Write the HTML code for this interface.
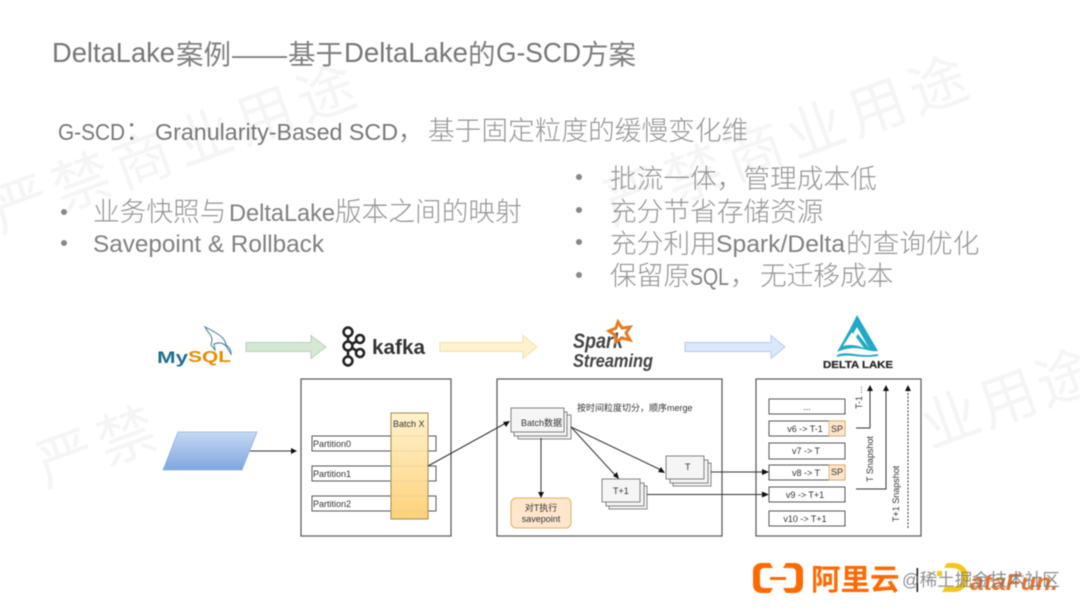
<!DOCTYPE html>
<html lang="zh"><head><meta charset="utf-8"><title>DeltaLake G-SCD</title>
<style>
html,body{margin:0;padding:0;background:#fff;width:1080px;height:608px;overflow:hidden}
svg{display:block;font-family:"Liberation Sans","Noto Sans CJK SC",sans-serif;filter:blur(.45px)}
.wm{font-size:58px;fill:#f5f5f5;letter-spacing:7px}
.hl{fill:#777;font-size:27.5px}
.hc{fill:#808080;font-size:27.5px}
.sl{fill:#777;font-size:23px}
.c{fill:#959595;font-size:26.7px;font-weight:300}
.bl{fill:#808080;font-size:24px}
.s{font-size:9px;fill:#333}
.box{fill:#fff;stroke:#555;stroke-width:1.2}
.r{fill:#fff;stroke:#444;stroke-width:.9}
.st{fill:#f5f5f5;stroke:#777;stroke-width:.9}
.l{stroke:#333;stroke-width:1;fill:none}
.ah{fill:#111}
</style></head><body>
<svg width="1080" height="608" viewBox="0 0 1080 608" xmlns="http://www.w3.org/2000/svg">
<defs>
<linearGradient id="g1" x1="0" y1="0" x2="0" y2="1"><stop offset="0" stop-color="#c5d9f5"/><stop offset="1" stop-color="#7ea6e0"/></linearGradient>
<linearGradient id="g2" x1="0" y1="0" x2="0" y2="1"><stop offset="0" stop-color="#fff2cc"/><stop offset="1" stop-color="#ffd27a"/></linearGradient>
</defs>
<!-- watermark -->
<text class="wm" transform="translate(20,203) rotate(-20)" x="-29" y="22">严禁商业用途</text>
<text class="wm" transform="translate(632,195) rotate(-20)" x="-29" y="22">严禁商业用途</text>
<text class="wm" transform="translate(65,457) rotate(-20)" x="-29" y="22">严禁</text>
<text class="wm" transform="translate(950,418) rotate(-20)" x="-29" y="22" style="letter-spacing:3px">业用途</text>

<!-- heading -->
<text class="hl" x="52" y="62" textLength="123" lengthAdjust="spacingAndGlyphs">DeltaLake</text>
<text class="hc" x="176" y="64">案例</text>
<text class="hc" x="232" y="64">——</text>
<text class="hc" x="288" y="64">基于</text>
<text class="hl" x="344" y="62" textLength="124" lengthAdjust="spacingAndGlyphs">DeltaLake</text>
<text class="hc" x="468" y="64">的</text>
<text class="hl" x="496" y="62" textLength="85" lengthAdjust="spacingAndGlyphs">G-SCD</text>
<text class="hc" x="581" y="64">方案</text>

<!-- subtitle -->
<text class="sl" x="58" y="140" textLength="67" lengthAdjust="spacingAndGlyphs">G-SCD</text>
<text class="c" x="125" y="140" style="fill:#777">：</text>
<text class="sl" x="155" y="140" textLength="243" lengthAdjust="spacingAndGlyphs">Granularity-Based SCD</text>
<text class="c" x="398" y="140" style="fill:#777">，</text>
<text class="c" x="428" y="140">基于固定粒度的缓慢变化维</text>

<!-- left bullets -->
<circle cx="64" cy="212" r="3" fill="#888"/>
<circle cx="64" cy="243" r="3" fill="#888"/>
<text class="c" x="93" y="221">业务快照与</text>
<text class="bl" x="229" y="221" textLength="106" lengthAdjust="spacingAndGlyphs">DeltaLake</text>
<text class="c" x="335" y="221">版本之间的映射</text>
<text class="bl" x="93" y="252" textLength="231" lengthAdjust="spacingAndGlyphs">Savepoint &amp; Rollback</text>

<!-- right bullets -->
<circle cx="579" cy="177" r="3" fill="#888"/>
<circle cx="579" cy="210" r="3" fill="#888"/>
<circle cx="579" cy="242" r="3" fill="#888"/>
<circle cx="579" cy="275" r="3" fill="#888"/>
<text class="c" x="610" y="188">批流一体，管理成本低</text>
<text class="c" x="610" y="221">充分节省存储资源</text>
<text class="c" x="610" y="253">充分利用</text>
<text class="bl" x="716" y="252" textLength="129" lengthAdjust="spacingAndGlyphs">Spark/Delta</text>
<text class="c" x="846" y="253">的查询优化</text>
<text class="c" x="610" y="285">保留原</text>
<text class="bl" x="690" y="285" textLength="39" lengthAdjust="spacingAndGlyphs">SQL</text>
<text class="c" x="730" y="285">，</text>
<text class="c" x="760" y="285">无迁移成本</text>

<!-- MySQL logo -->
<text x="157" y="363" font-size="17" font-weight="700" fill="#1f6f92" textLength="31" lengthAdjust="spacingAndGlyphs">My</text>
<text x="188" y="362" font-size="16" font-weight="700" fill="#e48e00" textLength="43" lengthAdjust="spacingAndGlyphs">SQL</text>
<path d="M205 327c3 6 7 8 7 13l-1 5 4 5-1-6c5-2 9-1 12 2l5 8c0-5-2-7-5-9-1-6-5-9-10-12-4-3-7-4-11-6z" fill="none" stroke="#3d7f9c" stroke-width="1"/>

<!-- arrows top -->
<path d="M246 342.500h65v-7l15 11.500-15 11.500v-7h-65z" fill="#d5e8d4" stroke="#b7d3b5"/>
<path d="M440 342.500h83v-7l14 11.500-14 11.500v-7h-83z" fill="#fff2cc" stroke="#efe0a8"/>
<path d="M685 342.500h86v-7l14 11.500-14 11.500v-7h-86z" fill="#dae8fc" stroke="#b5cbe6"/>

<!-- kafka logo -->
<g fill="none" stroke="#222" stroke-width="2.6">
<circle cx="348" cy="332" r="4.4"/><circle cx="348" cy="346" r="4.4"/><circle cx="348" cy="361" r="4.4"/>
<circle cx="360" cy="339" r="4"/><circle cx="360" cy="353" r="4"/>
<path d="M348 337v4M348 351v5M352 344l5-3M352 348l5 3"/>
</g>
<text x="372" y="354" font-size="20" font-weight="700" fill="#333" textLength="53" lengthAdjust="spacingAndGlyphs">kafka</text>

<!-- Spark Streaming -->
<text x="573" y="348" font-size="21" font-weight="700" font-style="italic" fill="#444" textLength="50" lengthAdjust="spacingAndGlyphs">Spark</text>
<text x="573" y="367" font-size="18" font-style="italic" font-weight="700" fill="#444" textLength="80" lengthAdjust="spacingAndGlyphs">Streaming</text>
<path d="M618 322l4 6 8-1-4 6 4 7-8-2-6 4-1-7-6-4 7-3z" fill="none" stroke="#e67a22" stroke-width="3"/>

<!-- Delta Lake logo -->
<path d="M857 315L878 351C868 353 858 343 837 352L850 329L852 332L843 346C850 344 857 345 864 348L856 337L858 334L869 348L857 327L853 334L850 329z" fill="#21a9c7"/>
<path d="M837 355c12-5 22 3 41-1v2c-18 3-28-3-41 1z" fill="#21a9c7"/>
<text x="823" y="368" font-size="10.500" font-weight="700" fill="#2a2a2a" stroke="#2a2a2a" stroke-width=".3" textLength="70" lengthAdjust="spacingAndGlyphs">DELTA LAKE</text>

<!-- source -->
<polygon points="178,432 257,432 242,470 163,470" fill="url(#g1)" stroke="#8fb0dd" stroke-width=".8"/>
<path class="l" d="M250 451H294"/><path class="ah" d="M297 451l-6-3v6z"/>

<!-- Kafka box -->
<rect class="box" x="301" y="379" width="150" height="157"/>
<rect class="r" x="312" y="436" width="124" height="15"/>
<rect class="r" x="312" y="466" width="124" height="15"/>
<rect class="r" x="312" y="496" width="124" height="15"/>
<rect x="391" y="413" width="37" height="106" fill="url(#g2)" stroke="#a08a50"/>
<path d="M391 451h37M391 466h37M391 481h37M391 496h37M391 511h37M391 436h37" stroke="#d8c99a" stroke-width=".6" fill="none"/>
<text class="s" x="313" y="447">Partition0</text>
<text class="s" x="313" y="477">Partition1</text>
<text class="s" x="313" y="507">Partition2</text>
<text class="s" x="393" y="427">Batch X</text>

<!-- Streaming box -->
<rect class="box" x="497" y="379" width="225" height="157"/>
<path class="l" d="M428 466L506 423"/><path class="ah" d="M510 421l-7 1 3 5z"/>
<text x="577" y="411" font-size="9" fill="#333">按时间粒度切分，顺序merge</text>

<g><rect class="st" x="518" y="415" width="53" height="24"/><rect class="st" x="514" y="412" width="53" height="24"/><rect class="st" x="511" y="408" width="53" height="24"/></g>
<text class="s" x="521" y="426">Batch数据</text>

<g><rect class="st" x="673" y="463" width="38" height="23"/><rect class="st" x="670" y="460" width="38" height="23"/><rect class="st" x="666" y="456" width="38" height="23"/></g>
<text class="s" x="685" y="470">T</text>

<g><rect class="st" x="609" y="486" width="38" height="23"/><rect class="st" x="606" y="483" width="38" height="23"/><rect class="st" x="602" y="479" width="38" height="23"/></g>
<text class="s" x="613" y="494">T+1</text>

<rect x="511" y="498" width="60" height="30" rx="5" fill="#ffe6cc" stroke="#e0b060"/>
<text class="s" x="541" y="511" text-anchor="middle">对T执行</text>
<text class="s" x="541" y="522" text-anchor="middle">savepoint</text>

<path class="l" d="M541 438V494"/><path class="ah" d="M541 498l-3-6h6z"/>
<path class="l" d="M571 427L615 475"/><path class="ah" d="M619 479l-2-7-4 4z"/>
<path class="l" d="M571 427L661 470"/><path class="ah" d="M665 473l-4-6-3 5z"/>

<!-- Delta box -->
<rect class="box" x="756" y="379" width="165" height="157"/>
<path class="l" d="M711 472H765"/><path class="ah" d="M769 472l-7-3v6z"/>
<path class="l" d="M647 494.500H765"/><path class="ah" d="M769 494.500l-7-3v6z"/>
<g>
<rect class="r" x="769" y="399" width="76" height="15"/>
<rect class="r" x="769" y="421" width="76" height="15"/>
<rect class="r" x="769" y="443" width="76" height="16"/>
<rect class="r" x="769" y="465" width="76" height="15"/>
<rect class="r" x="769" y="487" width="76" height="15"/>
<rect class="r" x="769" y="511" width="76" height="15"/>
<rect x="829" y="421" width="16" height="15" fill="#ffe6cc" stroke="#e0b060" stroke-width=".8"/>
<rect x="829" y="465" width="16" height="15" fill="#ffe6cc" stroke="#e0b060" stroke-width=".8"/>
</g>
<text class="s" x="807" y="410" text-anchor="middle">...</text>
<text class="s" x="805" y="432" text-anchor="middle">v6 -&gt; T-1</text>
<text class="s" x="837" y="432" text-anchor="middle">SP</text>
<text class="s" x="806" y="454" text-anchor="middle">v7 -&gt; T</text>
<text class="s" x="806" y="476" text-anchor="middle">v8 -&gt; T</text>
<text class="s" x="837" y="475" text-anchor="middle">SP</text>
<text class="s" x="805" y="498" text-anchor="middle">v9 -&gt; T+1</text>
<text class="s" x="805" y="522" text-anchor="middle">v10 -&gt; T+1</text>

<path class="l" d="M856 428H870V388M856 489H886V388"/>
<path class="l" d="M908 528V388" stroke-dasharray="2 1.5"/>
<path class="ah" d="M870 385l-3 6h6zM886 385l-3 6h6zM908 385l-3 6h6z"/>
<text class="s" transform="translate(862,409) rotate(-90)">T-1 ...</text>
<text class="s" transform="translate(873,482) rotate(-90)">T Snapshot</text>
<text class="s" transform="translate(899,522) rotate(-90)">T+1 Snapshot</text>

<!-- footer -->
<path d="M770 563h-9a8 8 0 0 0-8 8v14a8 8 0 0 0 8 8h9l3-5h-9a4 4 0 0 1-4-4v-12a4 4 0 0 1 4-4h9zM786 563h9a8 8 0 0 1 8 8v14a8 8 0 0 1-8 8h-9l-3-5h9a4 4 0 0 0 4-4v-12a4 4 0 0 0-4-4h-9z" fill="#ff6a00"/>
<rect x="770" y="577" width="16" height="3" fill="#ff6a00"/>
<text x="811" y="590" font-size="29.500" font-weight="700" fill="#ff6a00">阿里云</text>
<rect x="916.500" y="568" width="1.600" height="24" fill="#222"/>
<path d="M947 563h7a14.500 14.500 0 0 1 0 29h-12l3-5h8a9.500 9.500 0 0 0 0-19h-9z" fill="#f5c518"/>
<rect x="937" y="571" width="5" height="5" fill="#f5c518"/>
<text x="970" y="590" font-size="23" font-weight="700" font-style="italic" fill="#e8722a" textLength="88" lengthAdjust="spacingAndGlyphs">ataFun.</text>
<text x="902" y="586" font-size="17.500" fill="#7a7a7a" fill-opacity=".85">@稀土掘金技术社区</text>
</svg>
</body></html>
